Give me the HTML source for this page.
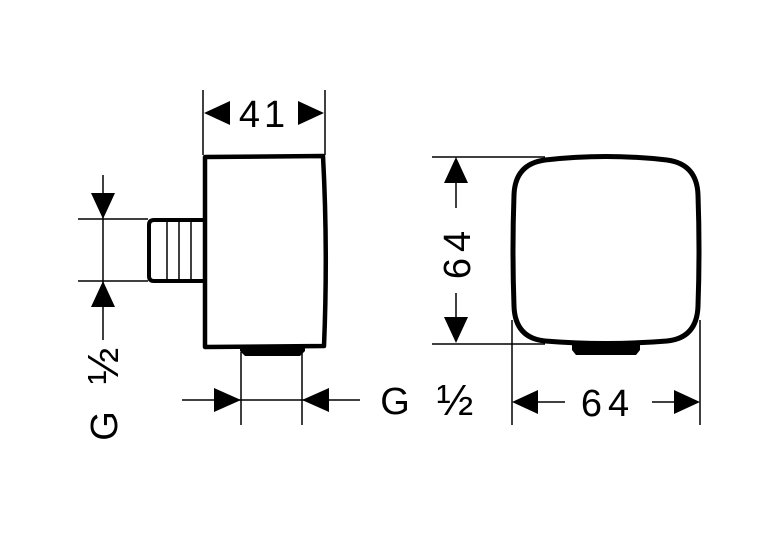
<!DOCTYPE html>
<html><head><meta charset="utf-8"><style>
html,body{margin:0;padding:0;background:#fff;width:770px;height:548px;overflow:hidden}
text{font-family:"Liberation Sans","DejaVu Sans",sans-serif;fill:#000}
</style></head><body>
<svg width="770" height="548" viewBox="0 0 770 548" xmlns="http://www.w3.org/2000/svg">
<g stroke="#000" fill="none">
<path d="M205 157 L323 156 Q328 250 324 346 L205 347 Z" stroke-width="4.5" stroke-linejoin="round"/>
<path d="M203 220 L154 220 Q149 220 149 225 L149 276 Q149 281 154 281 L203 281" stroke-width="4"/>
<line x1="167" y1="221" x2="167" y2="280" stroke-width="1.5"/>
<line x1="179" y1="221" x2="179" y2="280" stroke-width="1.5"/>
<line x1="191" y1="221" x2="191" y2="280" stroke-width="1.5"/>
<line x1="203" y1="90" x2="203" y2="155" stroke-width="1.5"/>
<line x1="325" y1="90" x2="325" y2="155" stroke-width="1.5"/>
<line x1="78" y1="219" x2="148" y2="219" stroke-width="1.5"/>
<line x1="78" y1="281" x2="148" y2="281" stroke-width="1.5"/>
<line x1="103" y1="175" x2="103" y2="340" stroke-width="1.5"/>
<line x1="241" y1="352" x2="241" y2="425" stroke-width="1.5"/>
<line x1="302" y1="352" x2="302" y2="425" stroke-width="1.5"/>
<line x1="182" y1="400" x2="360" y2="400" stroke-width="1.5"/>
<path d="M545 160 Q606 153 667 160 Q697 164 698 195 Q700 250 698 306 Q697 338 667 341 Q606 346 545 341 Q515 338 514 306 Q512 250 514 195 Q515 164 545 160 Z" stroke-width="5"/>
<line x1="432" y1="157" x2="545" y2="157" stroke-width="1.5"/>
<line x1="432" y1="344" x2="545" y2="344" stroke-width="1.5"/>
<line x1="456" y1="183" x2="456" y2="208" stroke-width="1.5"/>
<line x1="456" y1="293" x2="456" y2="318" stroke-width="1.5"/>
<line x1="512" y1="320" x2="512" y2="425" stroke-width="1.5"/>
<line x1="700" y1="320" x2="700" y2="425" stroke-width="1.5"/>
<line x1="537" y1="402" x2="565" y2="402" stroke-width="1.5"/>
<line x1="652" y1="402" x2="675" y2="402" stroke-width="1.5"/>
</g>
<g fill="#000">
<path d="M240 346 L305 346 L305 351 L300 356 L245 356 L240 351 Z"/>
<path d="M572 343 L640 343 L640 350 L636 355 L576 355 L572 350 Z"/>
<polygon points="204,113 230,101 230,125"/>
<polygon points="324,113 298,101 298,125"/>
<polygon points="103,219 91,193 115,193"/>
<polygon points="103,281 91,307 115,307"/>
<polygon points="241,400 214,388 214,412"/>
<polygon points="302,400 329,388 329,412"/>
<polygon points="456,157 444,183 468,183"/>
<polygon points="456,343 444,317 468,317"/>
<polygon points="512,402 538,390 538,414"/>
<polygon points="700,402 674,390 674,414"/>
</g>
<text x="264" y="127" font-size="38" text-anchor="middle" letter-spacing="4">41</text>
<text x="395" y="414" font-size="38" text-anchor="middle">G</text>
<text x="455" y="415" font-size="44" text-anchor="middle">½</text>
<text x="608" y="416" font-size="38" text-anchor="middle" letter-spacing="6">64</text>
<text transform="translate(470,252) rotate(-90)" font-size="38" text-anchor="middle" letter-spacing="6">64</text>
<text transform="translate(117,426) rotate(-90)" font-size="38" text-anchor="middle">G</text>
<text transform="translate(118,366) rotate(-90)" font-size="44" text-anchor="middle">½</text>
</svg>
</body></html>
